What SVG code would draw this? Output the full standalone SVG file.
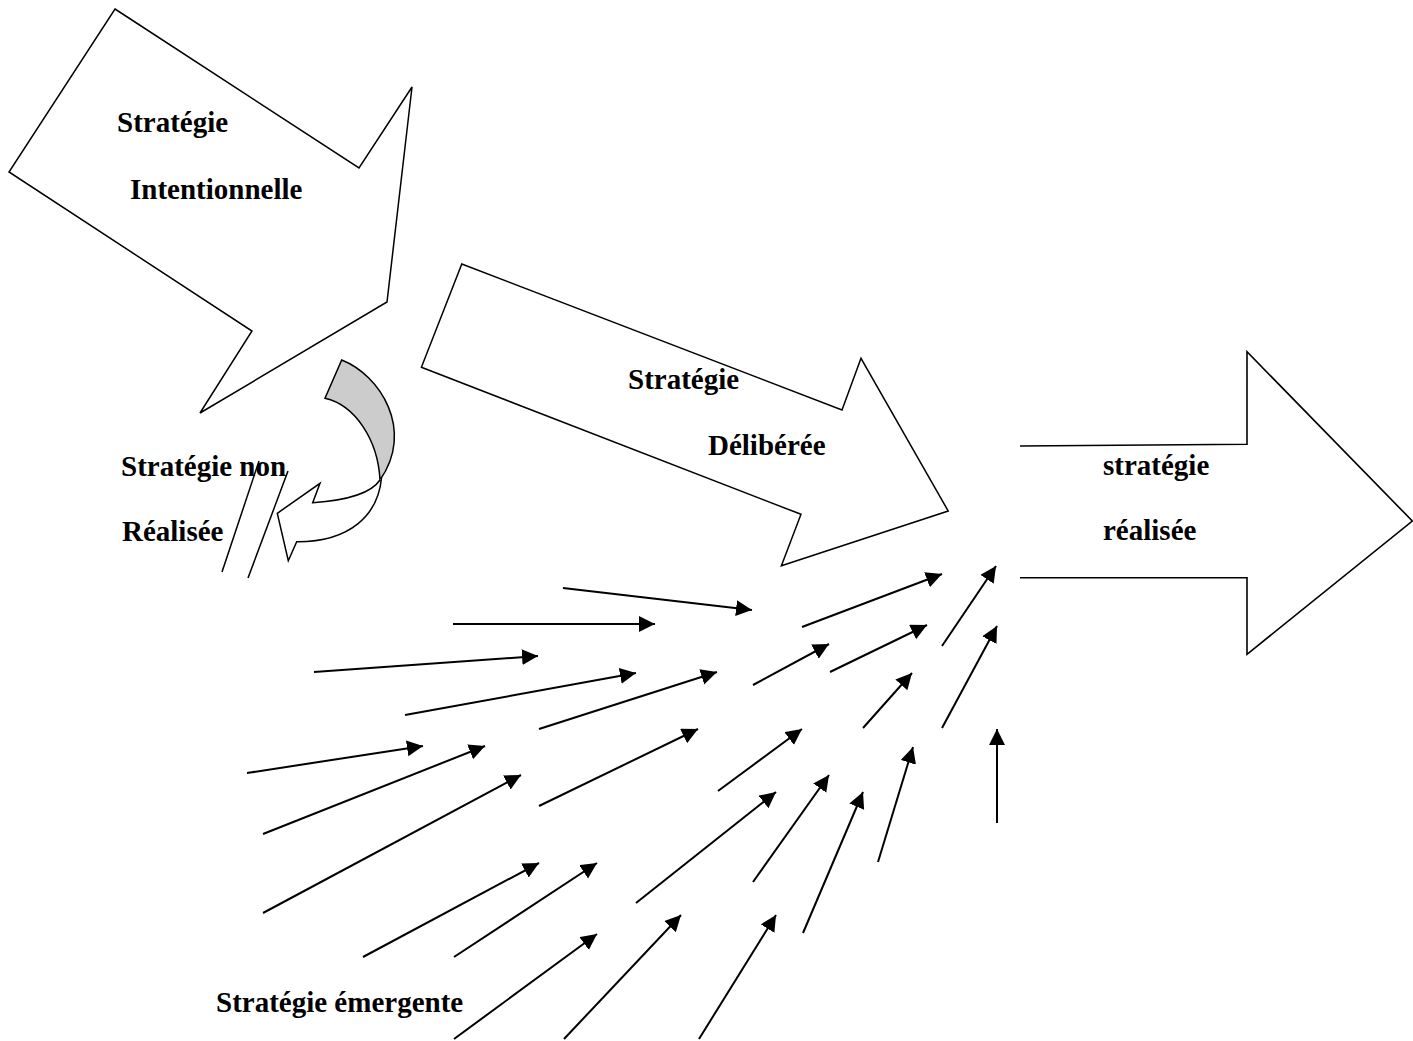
<svg xmlns="http://www.w3.org/2000/svg" width="1413" height="1041" viewBox="0 0 1413 1041">
  <style>
    .shape { fill: #ffffff; stroke: #000000; stroke-width: 1.5; stroke-linejoin: miter; }
    .open { fill: none; stroke: #000000; stroke-width: 1.6; }
    .shade { fill: #cccccc; stroke: #000000; stroke-width: 1.5; }
    .label { font-family: "Liberation Serif", "Times New Roman", serif; font-weight: bold; font-size: 29px; fill: #000000; }
    .flow { stroke: #000000; stroke-width: 2; fill: none; marker-end: url(#head); }
    .tick { stroke: #000000; stroke-width: 1.5; fill: none; }
  </style>
  <defs>
    <marker id="head" markerUnits="userSpaceOnUse" markerWidth="18" markerHeight="18" refX="16" refY="8" orient="auto">
      <path d="M0,0 L16,8 L0,16 z" fill="#000000"/>
    </marker>
  </defs>
  <rect width="1413" height="1041" fill="#ffffff"/>

  <!-- intended strategy: large block arrow pointing down-right -->
  <g id="intentionnelle">
    <polygon class="shape" points="115,9 359,168 412,87 387,302 200,413 252,331 9,172"/>
    <text class="label" x="117" y="132">Stratégie</text>
    <text class="label" x="130" y="199">Intentionnelle</text>
  </g>

  <!-- unrealized strategy: curved arrow turning back to the left -->
  <g id="non-realisee">
    <path class="shade" d="M341.7,360 C380,375 415,430 380,480 C378,440 355,405 325,398.3 Z"/>
    <path class="shape" d="M380,480 C372,492 352,500 312.7,502.7 L320,483.3 L277.3,513.3 L288.3,560.7 L296.7,541.7 C350,542 378,515 381.5,478"/>
    <text class="label" x="121" y="476">Stratégie non</text>
    <text class="label" x="122" y="541">Réalisée</text>
    <line class="tick" x1="259" y1="461" x2="222" y2="572"/>
    <line class="tick" x1="288" y1="471" x2="248" y2="578"/>
  </g>

  <!-- deliberate strategy: block arrow -->
  <g id="deliberee">
    <polygon class="shape" points="461.8,264 842,410 861,358.3 948.2,511 781.4,565.7 801,514.3 421.4,367.3"/>
    <text class="label" x="628" y="389">Stratégie</text>
    <text class="label" x="708" y="455">Délibérée</text>
  </g>

  <!-- realized strategy: open-tailed block arrow -->
  <g id="realisee">
    <path class="open" d="M1020,446 L1247,444.3 L1247,351.7 L1412.3,521 L1247,654.3 L1247,577.7 L1020,577.7"/>
    <text class="label" x="1103" y="475">stratégie</text>
    <text class="label" x="1103" y="540">réalisée</text>
  </g>

  <g id="emergente">
    <text class="label" x="216" y="1012">Stratégie émergente</text>
  </g>

  <!-- emergent strategy: scattered small arrows converging to the right -->
  <g id="connectors">
    <line class="flow" x1="563" y1="588" x2="752" y2="610"/>
    <line class="flow" x1="453" y1="624" x2="655" y2="624"/>
    <line class="flow" x1="314" y1="672" x2="538" y2="656"/>
    <line class="flow" x1="405" y1="715" x2="636" y2="673"/>
    <line class="flow" x1="539" y1="729" x2="717" y2="672"/>
    <line class="flow" x1="247" y1="773" x2="423" y2="746"/>
    <line class="flow" x1="263" y1="834" x2="485" y2="746"/>
    <line class="flow" x1="263" y1="913" x2="521" y2="775"/>
    <line class="flow" x1="539" y1="806" x2="698" y2="729"/>
    <line class="flow" x1="802" y1="627" x2="942" y2="574"/>
    <line class="flow" x1="942" y1="646" x2="996" y2="566"/>
    <line class="flow" x1="753" y1="685" x2="829" y2="644"/>
    <line class="flow" x1="830" y1="672" x2="927" y2="625"/>
    <line class="flow" x1="942" y1="728" x2="997" y2="626"/>
    <line class="flow" x1="863" y1="728" x2="912" y2="673"/>
    <line class="flow" x1="718" y1="791" x2="802" y2="729"/>
    <line class="flow" x1="997" y1="823" x2="997" y2="729"/>
    <line class="flow" x1="878" y1="862" x2="913" y2="747"/>
    <line class="flow" x1="753" y1="882" x2="829" y2="775"/>
    <line class="flow" x1="636" y1="903" x2="776" y2="792"/>
    <line class="flow" x1="803" y1="933" x2="863" y2="792"/>
    <line class="flow" x1="363" y1="957" x2="539" y2="863"/>
    <line class="flow" x1="454" y1="957" x2="597" y2="863"/>
    <line class="flow" x1="454" y1="1039" x2="597" y2="934"/>
    <line class="flow" x1="564" y1="1039" x2="681" y2="915"/>
    <line class="flow" x1="699" y1="1039" x2="776" y2="915"/>
  </g>
</svg>
